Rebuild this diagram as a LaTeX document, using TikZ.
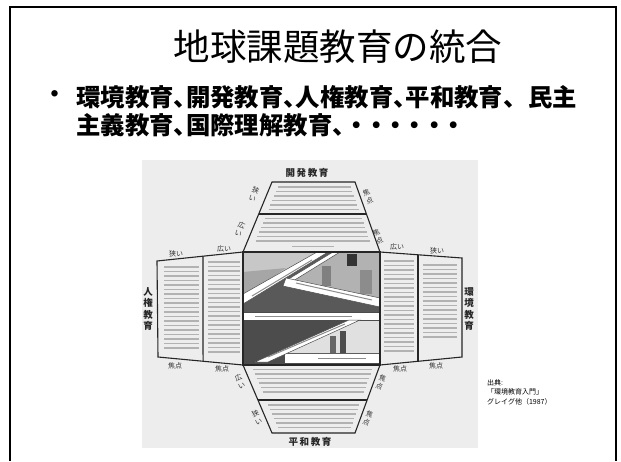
\documentclass[tikz,border=0pt]{standalone}
\usepackage{fontspec}
\setmainfont{Noto Sans CJK JP}
\newfontfamily\proptext{Noto Sans CJK JP}[RawFeature=+palt]
\newcommand{\tendot}{\mbox{・}\kern-5pt}
\usetikzlibrary{calc}

\tikzset{
  wing/.style={draw=black!85, line width=1.1},
  greek/.style={draw=black!30, line width=1.3},
  band/.style={fill=white, draw=black!70, line width=0.5},
  bandtext/.style={draw=black!45, line width=1},
  tag/.style={font=\fontsize{7}{8.6}\selectfont, text=black!80, inner sep=0, align=center},
  sidename/.style={font=\bfseries\fontsize{9.5}{11.3}\selectfont, text=black!85, inner sep=0, align=center},
  bullettext/.style={inner sep=0, anchor=west, font=\proptext\bfseries\fontsize{24.4}{24.4}\selectfont},
}

\begin{document}
\begin{tikzpicture}[x=1pt,y=-1pt]
    \useasboundingbox (0,0) rectangle (621,461);
    \fill[white] (0,0) rectangle (621,461);
    \draw[line width=2] (10,461) -- (10,7) -- (616,7) -- (616,461);

    \node[inner sep=0] (title) at (338,47) {\fontsize{36.5}{36.5}\selectfont 地球課題教育の統合};
    \node[inner sep=0] (dot) at (55,97) {\bfseries\fontsize{23}{23}\selectfont ・};
    \node[bullettext] (line1) at (76,97) {環境教育、開発教育、人権教育、平和教育、\kern 13pt 民主};
    \node[bullettext] (line2) at (76,125) {主義教育、国際理解教育、{\normalfont\bfseries\fontsize{24.4}{24.4}\selectfont\tendot\tendot\tendot\tendot\tendot\tendot}};

    % scanned figure
    \fill[black!7] (142,160) rectangle (478,448);

    \coordinate (k1) at (272,182);
    \coordinate (k2) at (355,182);
    \coordinate (c1) at (243,252);
    \coordinate (c2) at (380,252);
    \coordinate (c3) at (380,365);
    \coordinate (c4) at (243,365);
    \coordinate (h1) at (272,433);
    \coordinate (h2) at (355,433);
    \coordinate (j1) at (157,261);
    \coordinate (j2) at (158,357);
    \coordinate (e1) at (462,258);
    \coordinate (e2) at (462,357);

    % photos in the middle
    \fill[black!45] (243,252) rectangle (380,312);
    \fill[black!22] (243,252) -- (320,252) -- (243,297) -- cycle;
    \fill[black!35] (243,272) -- (286,268) -- (243,297) -- cycle;
    \fill[black!30] (336,252) -- (380,252) -- (380,299) -- (290,280) -- cycle;
    \fill[black!50] (322,266) rectangle (331,286);
    \fill[black!45] (360,270) rectangle (372,294);
    \fill[black!80] (347,254) rectangle (357,266);
    \fill[black!65] (243,304) -- (328,252) -- (333,252) -- (288,281) -- (380,307) -- (380,312) -- (243,312) -- cycle;
    \fill[black!70] (243,320) rectangle (380,365);
    \fill[black!12] (356,320) -- (380,320) -- (380,353) -- (283,353) -- cycle;
    \fill[black!60] (330,336) rectangle (336,353);
    \fill[black!70] (340,331) rectangle (346,353);
    \fill[white] (285,354) rectangle (379,363);

    \draw[band] (243,294) -- (317,252) -- (328,252) -- (243,304) -- cycle;
    \draw[band] (333,252) -- (340,252) -- (293,281) -- (287,280) -- cycle;
    \draw[band] (286,278) -- (380,298) -- (380,307) -- (283,286) -- cycle;
    \draw[band] (243,312) rectangle (380,320);
    \draw[band] (255,362) -- (349,320) -- (360,320) -- (268,362) -- cycle;

    \draw[bandtext] (252,296) -- (312,260);
    \draw[bandtext] (296,283) -- (372,300);
    \draw[bandtext] (255,316) -- (352,316);
    \draw[bandtext] (268,357) -- (345,324);
    \draw[bandtext] (318,358.5) -- (366,358.5);

    % text of the four blocks
    \foreach \y in {187,191.5,196,200.5,205,209.5}
        \draw[greek] ({280-29*(\y-182)/70},\y) -- ({349+25*(\y-182)/70},\y);
    \foreach \y in {218.5,223,227.5,232,236.5,241}
        \draw[greek] ({280-29*(\y-182)/70},\y) -- ({349+25*(\y-182)/70},\y);
    \draw[greek] (292,246.5) -- (334,246.5);
    \foreach \y in {369.5,374,378.5,383,387.5,392}
        \draw[greek] ({251+29*(\y-365)/68},\y) -- ({374-25*(\y-365)/68},\y);
    \foreach \y in {405,409.5,414,418.5,423,427.5}
        \draw[greek] ({251+29*(\y-365)/68},\y) -- ({374-25*(\y-365)/68},\y);
    \foreach \y in {267,271.5,...,348}
        \draw[greek] (164,\y) -- (199,\y);
    \foreach \y in {262,266.5,...,352}
        \draw[greek] (208,\y) -- (240,\y);
    \foreach \y in {261,265.5,...,352}
        \draw[greek] (384,\y) -- (414,\y);
    \foreach \y in {265,269.5,...,341}
        \draw[greek] (423,\y) -- (457,\y);

    % outlines
    \draw[wing] (k1) -- (k2) -- (c2) -- (c1) -- cycle;
    \draw[wing] ($(k1)!0.457!(c1)$) -- ($(k2)!0.457!(c2)$);
    \draw[wing] (c4) -- (c3) -- (h2) -- (h1) -- cycle;
    \draw[wing] ($(c4)!0.515!(h1)$) -- ($(c3)!0.515!(h2)$);
    \draw[wing] (c1) -- (j1) -- (j2) -- (c4);
    \draw[wing] ($(j1)!0.535!(c1)$) -- ($(j2)!0.53!(c4)$);
    \draw[wing] (c2) -- (e1) -- (e2) -- (c3);
    \draw[wing] ($(c2)!0.463!(e1)$) -- ($(c3)!0.463!(e2)$);
    \draw[wing] (c1) rectangle (c3);

    % labels
    \node[sidename] (kaihatsu) at (307,173) {開\,発\,教\,育};
    \node[sidename] (heiwa) at (310,442) {平\,和\,教\,育};
    \node[sidename] (jinken) at (148,309) {人\\権\\教\\育};
    \node[sidename] (kankyo) at (469,309) {環\\境\\教\\育};

    \node[tag, rotate=-22] (ksemai) at (254,194) {狭\\い};
    \node[tag, rotate=-22] (khiroi) at (240,229) {広\\い};
    \node[tag, rotate=22] (kfocus1) at (368,197) {焦\\点};
    \node[tag, rotate=22] (kfocus2) at (378,237) {焦\\点};
    \node[tag, rotate=22] (hhiroi) at (240,381) {広\\い};
    \node[tag, rotate=22] (hsemai) at (257,417) {狭\\い};
    \node[tag, rotate=-22] (hfocus1) at (381,382) {焦\\点};
    \node[tag, rotate=-22] (hfocus2) at (368,418) {焦\\点};

    \node[tag] (jsemai) at (176,254) {狭い};
    \node[tag] (jhiroi) at (224,249) {広い};
    \node[tag] (jfocus1) at (175,366) {焦点};
    \node[tag] (jfocus2) at (222,369) {焦点};
    \node[tag] (ehiroi) at (397,247) {広い};
    \node[tag] (esemai) at (437,251) {狭い};
    \node[tag] (efocus1) at (400,369) {焦点};
    \node[tag] (efocus2) at (436,366) {焦点};

    \node[anchor=north west, inner sep=0, align=left, font=\fontsize{7}{9.5}\selectfont] (source) at (487,379) {出典:\\「環境教育入門」\\グレイグ他（1987）};
\end{tikzpicture}
\end{document}
